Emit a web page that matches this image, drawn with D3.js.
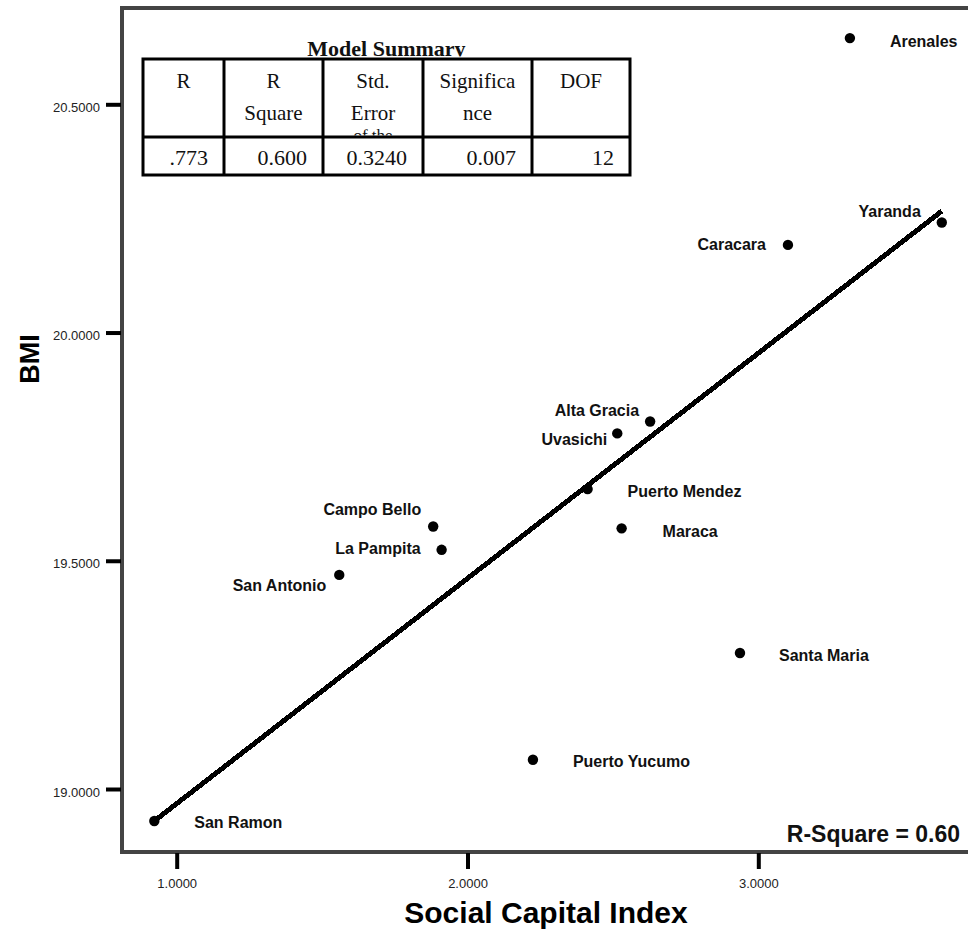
<!DOCTYPE html>
<html>
<head>
<meta charset="utf-8">
<script src="https://cdn.jsdelivr.net/npm/d3@7"></script>
<style>
  html, body { margin: 0; padding: 0; background: #fff; }
  svg { display: block; }
</style>
</head>
<body>
<svg id="chart" width="968" height="931"></svg>
<script>
// ---------------- data ----------------
const sites   = ["Arenales", "Yaranda", "Caracara", "Alta Gracia", "Uvasichi", "Puerto Mendez", "Maraca",
                 "Campo Bello", "La Pampita", "San Antonio", "Santa Maria", "Puerto Yucumo", "San Ramon"];
const socialCapital = [3.315, 3.631, 3.102, 2.628, 2.515, 2.413, 2.530, 1.882, 1.911, 1.559, 2.937, 2.225, 0.923];
const bmi           = [20.645, 20.241, 20.192, 19.805, 19.779, 19.657, 19.571, 19.575, 19.524, 19.469, 19.298, 19.064, 18.930];
const fitX = [0.923, 3.631];
const fitY = [18.930, 20.266];
const xTicks = [1, 2, 3];
const yTicks = [19, 19.5, 20, 20.5];
const tableTitle = "Model Summary";
const tableHeaders = [["R"], ["R", "Square"], ["Std.", "Error", "of the"], ["Significa", "nce"], ["DOF"]];
const tableValues = [".773", "0.600", "0.3240", "0.007", "12"];
const rSquareText = "R-Square = 0.60";
const xTitle = "Social Capital Index";
const yTitle = "BMI";

// ---------------- layout (not data) ----------------
const labelLayout = {
  "Arenales":      {anchor: "start", dx: 40,  dy: 9},
  "Yaranda":       {anchor: "end",   dx: -21, dy: -6},
  "Caracara":      {anchor: "end",   dx: -22, dy: 5},
  "Alta Gracia":   {anchor: "end",   dx: -11, dy: -6},
  "Uvasichi":      {anchor: "end",   dx: -10, dy: 12},
  "Puerto Mendez": {anchor: "start", dx: 40,  dy: 8},
  "Maraca":        {anchor: "start", dx: 41,  dy: 9},
  "Campo Bello":   {anchor: "end",   dx: -12, dy: -12},
  "La Pampita":    {anchor: "end",   dx: -21, dy: 4},
  "San Antonio":   {anchor: "end",   dx: -13, dy: 16},
  "Santa Maria":   {anchor: "start", dx: 39,  dy: 8},
  "Puerto Yucumo": {anchor: "start", dx: 40,  dy: 7},
  "San Ramon":     {anchor: "start", dx: 40,  dy: 7}
};

const SANS = "'Liberation Sans', Arial, Helvetica, sans-serif";
const SERIF = "'Liberation Serif', 'Times New Roman', Times, serif";

const svg = d3.select("#chart");
const frame = {left: 122, top: 8, bottom: 852};

const x = d3.scaleLinear().domain([1, 3]).range([176.7, 758.3]);
const y = d3.scaleLinear().domain([19, 20.5]).range([789, 104.3]);

// frame
svg.append("rect")
  .attr("x", frame.left).attr("y", frame.top)
  .attr("width", 1000).attr("height", frame.bottom - frame.top)
  .attr("fill", "none").attr("stroke", "#444").attr("stroke-width", 4);

// axes
const fmt = d3.format(".4f");
const gx = svg.append("g").attr("transform", `translate(0,${frame.bottom})`)
  .call(d3.axisBottom(x).tickValues(xTicks).tickFormat(fmt).tickSize(17).tickSizeOuter(0));
gx.select(".domain").remove();
gx.selectAll(".tick line").attr("stroke", "#000").attr("stroke-width", 4).attr("y1", 1);
gx.selectAll(".tick text").attr("y", 35.5).attr("dy", 0)
  .attr("font-family", SANS).attr("font-size", 13).attr("fill", "#222");

const gy = svg.append("g").attr("transform", `translate(${frame.left},0)`)
  .call(d3.axisLeft(y).tickValues(yTicks).tickFormat(fmt).tickSize(16).tickSizeOuter(0));
gy.select(".domain").remove();
gy.selectAll(".tick line").attr("stroke", "#000").attr("stroke-width", 4).attr("x1", -1);
gy.selectAll(".tick text").attr("x", -22).attr("dy", 7)
  .attr("font-family", SANS).attr("font-size", 13).attr("fill", "#222");

// axis titles
svg.append("text").attr("x", 546).attr("y", 923).attr("text-anchor", "middle")
  .attr("font-family", SANS).attr("font-weight", "bold").attr("font-size", 30).attr("fill", "#000")
  .text(xTitle);
svg.append("text").attr("transform", "translate(39,359) rotate(-90)").attr("text-anchor", "middle")
  .attr("font-family", SANS).attr("font-weight", "bold").attr("font-size", 27).attr("fill", "#000")
  .text(yTitle);

// fit line
const fitData = fitX.map((v, i) => ({x: v, y: fitY[i]}));
svg.append("path").datum(fitData)
  .attr("d", d3.line().x(d => x(d.x)).y(d => y(d.y)))
  .attr("fill", "none").attr("stroke", "#000").attr("stroke-width", 5)
  .attr("shape-rendering", "crispEdges");

// points
const pts = sites.map((s, i) => ({name: s, x: socialCapital[i], y: bmi[i]}));
svg.append("g").selectAll("circle").data(pts).join("circle")
  .attr("cx", d => x(d.x)).attr("cy", d => y(d.y)).attr("r", 5.2).attr("fill", "#000");
svg.append("g").selectAll("text").data(pts).join("text")
  .attr("x", d => x(d.x) + labelLayout[d.name].dx)
  .attr("y", d => y(d.y) + labelLayout[d.name].dy)
  .attr("text-anchor", d => labelLayout[d.name].anchor)
  .attr("font-family", SANS).attr("font-weight", "bold").attr("font-size", 16).attr("fill", "#111")
  .text(d => d.name);

// R-square annotation
svg.append("text").attr("x", 960).attr("y", 841.5).attr("text-anchor", "end")
  .attr("font-family", SANS).attr("font-weight", "bold").attr("font-size", 23).attr("fill", "#111")
  .text(rSquareText);

// ---------------- Model summary table ----------------
const colEdges = [143, 224, 323, 423, 532, 630];
const tTop = 59, tMid = 137, tBot = 175;
const defs = svg.append("defs");
defs.append("clipPath").attr("id", "titleClip").append("rect")
  .attr("x", 0).attr("y", 0).attr("width", 968).attr("height", 56.5);
tableHeaders.forEach((_, i) => {
  defs.append("clipPath").attr("id", "hclip" + i).append("rect")
    .attr("x", colEdges[i]).attr("y", tTop).attr("width", colEdges[i + 1] - colEdges[i]).attr("height", tMid - tTop - 1.5);
});
const tg = svg.append("g");
tg.append("text").attr("x", (colEdges[0] + colEdges[5]) / 2).attr("y", 55.5)
  .attr("text-anchor", "middle").attr("font-family", SERIF).attr("font-weight", "bold")
  .attr("font-size", 22).attr("fill", "#111").attr("clip-path", "url(#titleClip)")
  .text(tableTitle);
tg.append("rect").attr("x", colEdges[0]).attr("y", tTop)
  .attr("width", colEdges[5] - colEdges[0]).attr("height", tBot - tTop)
  .attr("fill", "#fff").attr("stroke", "#000").attr("stroke-width", 3);
tg.append("line").attr("x1", colEdges[0]).attr("x2", colEdges[5]).attr("y1", tMid).attr("y2", tMid)
  .attr("stroke", "#000").attr("stroke-width", 3);
colEdges.slice(1, 5).forEach(cx => {
  tg.append("line").attr("x1", cx).attr("x2", cx).attr("y1", tTop).attr("y2", tBot)
    .attr("stroke", "#000").attr("stroke-width", 3);
});
const lineBase = [88.3, 120, 140.5];
tableHeaders.forEach((lines, i) => {
  const cx = (colEdges[i] + colEdges[i + 1]) / 2;
  const g = tg.append("g").attr("clip-path", `url(#hclip${i})`);
  lines.forEach((t, j) => {
    g.append("text").attr("x", cx).attr("y", lineBase[j]).attr("text-anchor", "middle")
      .attr("font-family", SERIF).attr("font-size", j === 2 ? 17 : 21).attr("fill", "#111").text(t);
  });
});
tableValues.forEach((v, i) => {
  tg.append("text").attr("x", colEdges[i + 1] - 16).attr("y", 165).attr("text-anchor", "end")
    .attr("font-family", SERIF).attr("font-size", 22).attr("fill", "#111").text(v);
});
</script>
</body>
</html>
